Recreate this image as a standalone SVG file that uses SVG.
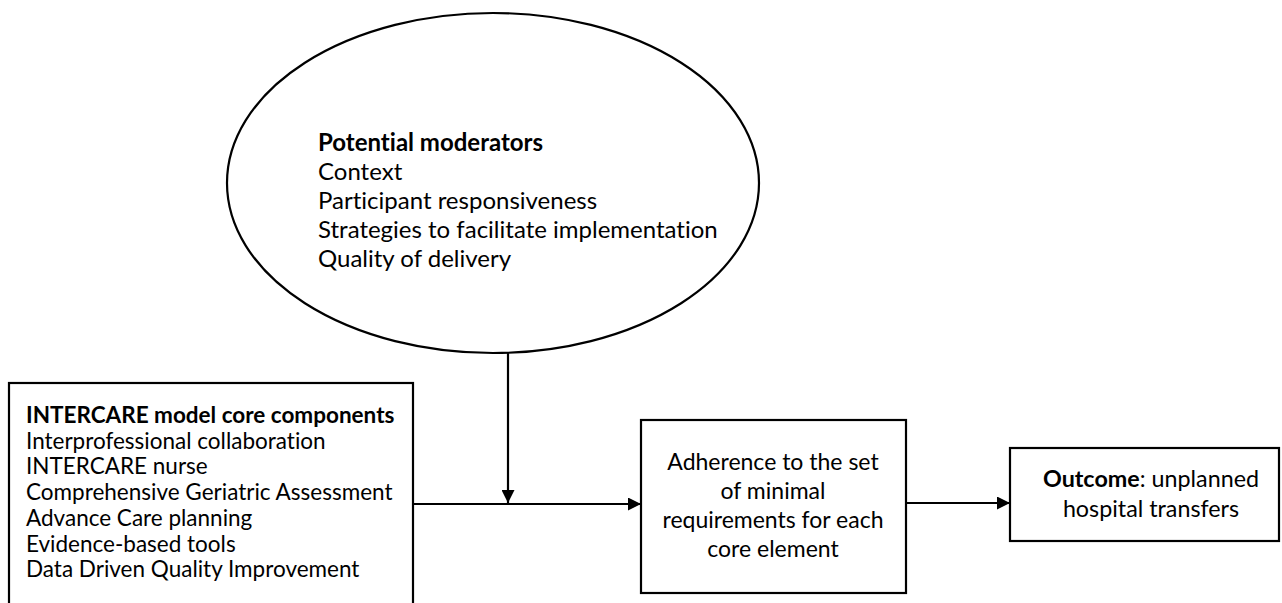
<svg xmlns="http://www.w3.org/2000/svg" width="1282" height="603" viewBox="0 0 1282 603">
<style>
.shape{fill:#fff;stroke:#000;stroke-width:2.2}
.t{font-family:Lato,"Liberation Sans",sans-serif;font-size:22.5px;fill:#000;font-variant-ligatures:none}
.e{font-size:24px}
.m{font-size:23px}
.o{font-size:23.3px}
.b{font-weight:bold}
.c{text-anchor:middle}
.conn{stroke:#000;stroke-width:2.2;fill:none}
</style>
<defs>
<marker id="ah" markerWidth="13" markerHeight="13" refX="13" refY="6.5" orient="auto" markerUnits="userSpaceOnUse">
<path d="M0,0 L13,6.5 L0,13 Z" fill="#000"/>
</marker>
</defs>
<rect width="1282" height="603" fill="#fff"/>
<g id="moderators">
<ellipse class="shape" cx="493" cy="183" rx="266" ry="170"/>
<text class="t e" x="318" y="151"><tspan class="b" x="318">Potential moderators</tspan><tspan x="318" dy="29">Context</tspan><tspan x="318" dy="29">Participant responsiveness</tspan><tspan x="318" dy="29">Strategies to facilitate implementation</tspan><tspan x="318" dy="29">Quality of delivery</tspan></text>
</g>
<g id="core">
<rect class="shape" x="9" y="383" width="404" height="240"/>
<text class="t" x="26" y="423"><tspan class="b" x="26">INTERCARE model core components</tspan><tspan x="26" dy="25.7">Interprofessional collaboration</tspan><tspan x="26" dy="25.7">INTERCARE nurse</tspan><tspan x="26" dy="25.7">Comprehensive Geriatric Assessment</tspan><tspan x="26" dy="25.7">Advance Care planning</tspan><tspan x="26" dy="25.7">Evidence-based tools</tspan><tspan x="26" dy="25.7">Data Driven Quality Improvement</tspan></text>
</g>
<g id="adherence">
<rect class="shape" x="641" y="420" width="265" height="173"/>
<text class="t m c" x="773" y="470"><tspan x="773">Adherence to the set</tspan><tspan x="773" dy="29">of minimal</tspan><tspan x="773" dy="29">requirements for each</tspan><tspan x="773" dy="29">core element</tspan></text>
</g>
<g id="outcome">
<rect class="shape" x="1010" y="448" width="269" height="93"/>
<text class="t o c" x="1151" y="487"><tspan class="b">Outcome</tspan>: unplanned<tspan x="1151" dy="30">hospital transfers</tspan></text>
</g>
<g id="connectors">
<line class="conn" x1="413" y1="504" x2="641" y2="504" marker-end="url(#ah)"/>
<line class="conn" x1="508" y1="353" x2="508" y2="503" marker-end="url(#ah)"/>
<line class="conn" x1="906" y1="503" x2="1010" y2="503" marker-end="url(#ah)"/>
</g>
</svg>
